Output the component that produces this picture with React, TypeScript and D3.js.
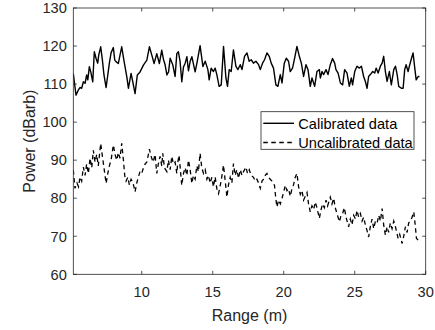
import React from "react";
import * as d3 from "d3";

const xTicks = [10, 15, 20, 25, 30];
const yTicks = [60, 70, 80, 90, 100, 110, 120, 130];
const seriesNames = ["Calibrated data", "Uncalibrated data"];

const calX = [5.18,5.37,5.53,5.65,5.77,5.89,6.01,6.12,6.2,6.31,6.41,6.55,6.66,6.78,6.9,6.97,7.11,7.23,7.34,7.49,7.61,7.72,7.84,8.0,8.1,8.19,8.35,8.47,8.59,8.76,8.95,9.06,9.25,9.37,9.53,9.69,9.88,10.12,10.36,10.54,10.71,10.87,11.06,11.24,11.41,11.53,11.65,11.77,11.89,12.0,12.19,12.35,12.47,12.58,12.7,12.82,12.94,13.06,13.18,13.29,13.41,13.53,13.76,13.88,14.11,14.31,14.47,14.66,14.75,14.89,15.05,15.17,15.29,15.45,15.6,15.76,15.93,16.04,16.16,16.3,16.46,16.63,16.77,16.94,17.06,17.24,17.41,17.57,17.71,17.87,18.04,18.23,18.35,18.51,18.65,18.82,18.98,19.12,19.28,19.45,19.59,19.76,19.88,20.04,20.18,20.34,20.46,20.62,20.77,20.93,21.1,21.24,21.4,21.57,21.71,21.87,21.99,22.18,22.34,22.51,22.58,22.7,22.81,22.98,23.12,23.28,23.44,23.59,23.68,23.83,23.99,24.15,24.29,24.46,24.62,24.76,24.85,25.0,25.16,25.33,25.47,25.63,25.75,25.87,25.98,26.1,26.27,26.41,26.51,26.65,26.81,26.93,27.04,27.16,27.28,27.44,27.58,27.75,27.87,27.99,28.1,28.29,28.41,28.52,28.62,28.76,28.85,29.0,29.11,29.23,29.33,29.47,29.56];
const calY = [112.8,107.1,108.4,109.1,108.9,110.6,110.2,112.4,111.1,114.6,113.2,110.6,118.5,116.8,115.5,117.6,119.8,116.3,112.4,109.1,112.4,115.5,118.2,119.6,116.3,115.9,115.4,117.6,119.8,115.9,111.9,108.9,112.8,110.6,107.5,112.4,113.2,115.0,116.3,119.8,117.6,115.4,118.0,115.4,118.9,116.5,115.0,112.4,113.2,116.8,115.0,112.0,118.0,118.5,116.0,110.6,114.5,115.5,117.2,113.5,116.0,117.2,113.2,115.4,120.1,114.6,116.0,113.8,111.1,114.2,113.3,114.2,112.5,109.4,109.8,119.9,111.6,109.4,113.8,113.3,119.0,114.7,113.8,115.1,113.8,117.3,118.2,116.0,116.4,115.5,116.0,115.1,113.8,115.5,116.4,118.2,117.3,115.5,114.2,109.8,109.4,112.5,110.3,115.5,116.8,116.0,113.3,114.2,116.8,119.9,117.3,115.5,112.0,115.1,113.8,109.4,111.6,109.4,113.3,113.8,111.6,113.3,112.5,113.8,112.5,115.1,116.7,115.5,113.8,112.9,110.3,109.8,113.8,112.9,109.4,111.6,109.8,113.3,114.7,114.2,114.7,112.0,110.7,108.9,112.0,112.5,113.3,112.9,114.2,112.9,114.7,115.5,117.3,113.3,110.7,113.3,109.8,113.8,114.7,112.5,109.4,108.9,108.9,113.8,115.1,113.3,114.7,116.8,118.2,114.2,111.1,112.0,112.0];

const uncX = [5.18,5.3,5.44,5.55,5.65,5.77,5.89,6.01,6.12,6.24,6.36,6.48,6.59,6.71,6.83,6.94,7.11,7.23,7.34,7.49,7.61,7.72,7.84,8.0,8.12,8.24,8.35,8.47,8.59,8.71,8.8,8.9,9.02,9.13,9.25,9.39,9.53,9.65,9.76,9.88,10.0,10.12,10.24,10.36,10.54,10.66,10.8,10.94,11.06,11.17,11.29,11.41,11.48,11.6,11.77,11.88,12.0,12.12,12.23,12.35,12.47,12.54,12.63,12.82,12.94,13.06,13.18,13.29,13.41,13.53,13.64,13.76,13.88,13.99,14.11,14.23,14.35,14.47,14.59,14.7,14.82,14.94,15.05,15.17,15.29,15.41,15.6,15.76,15.88,16.0,16.11,16.23,16.35,16.46,16.58,16.7,16.82,16.94,17.06,17.17,17.34,17.45,17.57,17.71,17.87,17.99,18.11,18.23,18.35,18.47,18.58,18.7,18.82,18.93,19.05,19.17,19.35,19.44,19.52,19.64,19.76,19.88,19.99,20.11,20.23,20.34,20.46,20.58,20.69,20.81,20.93,21.05,21.17,21.29,21.4,21.52,21.64,21.75,21.87,21.99,22.11,22.22,22.34,22.51,22.63,22.74,22.86,22.98,23.09,23.28,23.4,23.52,23.63,23.75,23.92,24.04,24.15,24.27,24.39,24.57,24.69,24.81,24.93,25.05,25.16,25.28,25.4,25.52,25.63,25.75,25.87,25.98,26.1,26.22,26.34,26.46,26.58,26.69,26.81,26.93,27.04,27.16,27.28,27.39,27.51,27.63,27.75,27.87,27.99,28.06,28.17,28.34,28.45,28.57,28.69,28.8,28.92,29.04,29.16,29.26,29.35,29.51];
const uncY = [87.4,82.6,84.0,83.0,85.6,84.5,88.2,86.0,89.0,86.5,90.5,88.0,92.6,89.5,91.5,88.5,94.4,91.0,88.0,83.9,86.5,88.5,90.0,94.0,91.5,90.0,92.0,90.5,94.4,90.0,86.0,84.5,85.5,83.5,85.0,84.0,81.7,84.0,85.5,87.0,86.5,88.0,89.0,89.5,92.9,91.0,89.5,91.5,86.5,89.0,91.0,88.5,91.8,88.0,87.0,90.0,87.5,91.0,89.0,89.5,86.5,89.5,91.3,83.4,86.5,88.0,86.0,90.0,87.5,83.9,86.0,85.0,88.5,87.0,91.8,88.0,86.5,87.5,85.0,86.0,84.0,85.5,83.0,85.6,82.5,81.2,84.7,88.7,84.5,80.3,83.5,85.5,84.0,89.1,86.0,87.5,85.2,87.5,86.0,87.0,88.2,86.5,87.5,86.0,85.5,84.5,85.0,84.0,82.6,84.5,85.0,86.0,86.5,85.5,85.0,84.5,83.4,80.0,77.7,79.5,78.5,80.0,81.5,83.4,82.0,82.5,80.5,82.5,83.5,85.5,86.5,83.0,81.0,82.0,79.5,80.5,81.5,78.5,76.4,78.0,77.0,79.0,77.5,74.7,77.0,78.5,77.5,79.5,78.0,80.3,78.5,80.0,77.5,76.0,73.8,75.5,76.0,77.5,75.0,72.5,74.5,73.0,75.5,74.5,76.8,75.0,76.0,74.0,75.0,73.0,71.5,69.8,72.5,74.5,72.0,74.0,73.5,75.5,74.0,77.3,73.0,70.3,72.5,71.0,73.5,72.0,74.0,72.5,70.5,69.4,70.5,68.1,70.0,72.5,71.0,73.5,74.0,75.0,76.4,73.0,69.4,68.9];

const W = 435;
const H = 330;
const left = 73.3;
const right = 425.7;
const top = 8;
const bottom = 274.3;
const axisColor = "#262626";
const font = "'Liberation Sans', Arial, sans-serif";

export default function App() {
  const x = d3.scaleLinear().domain([5.18, 30]).range([left, right]);
  const y = d3.scaleLinear().domain([60, 130]).range([bottom, top]);
  const line = d3
    .line<[number, number]>()
    .x((d) => x(d[0]))
    .y((d) => y(d[1]));
  const calData = calX.map((v, i) => [v, calY[i]] as [number, number]);
  const uncData = uncX.map((v, i) => [v, uncY[i]] as [number, number]);
  const tl = 3.5;

  const lg = { x0: 261, y0: 111.7, x1: 414, y1: 149.3 };

  return (
    <svg
      width={W}
      height={H}
      style={{ position: "absolute", left: 0, top: 0, background: "#fff" }}
      fontFamily={font}
    >
      <rect x={0} y={0} width={W} height={H} fill="#fff" />
      <defs>
        <clipPath id="plotclip">
          <rect x={left} y={top} width={right - left} height={bottom - top} />
        </clipPath>
      </defs>
      <g clipPath="url(#plotclip)">
        <path d={line(uncData) || ""} fill="none" stroke="#000" strokeWidth={1.3} strokeDasharray="4.5,3.5" />
        <path d={line(calData) || ""} fill="none" stroke="#000" strokeWidth={1.4} strokeLinejoin="round" />
      </g>
      {/* axes box */}
      <rect x={left} y={top} width={right - left} height={bottom - top} fill="none" stroke={axisColor} strokeWidth={0.8} />
      {xTicks.map((t) => (
        <g key={"x" + t}>
          <line x1={x(t)} x2={x(t)} y1={bottom} y2={bottom - tl} stroke={axisColor} strokeWidth={0.8} />
          <line x1={x(t)} x2={x(t)} y1={top} y2={top + tl} stroke={axisColor} strokeWidth={0.8} />
          <text x={x(t)} y={bottom + 22.5} textAnchor="middle" fontSize={14.6} fill={axisColor}>
            {t}
          </text>
        </g>
      ))}
      {yTicks.map((t) => (
        <g key={"y" + t}>
          <line x1={left} x2={left + tl} y1={y(t)} y2={y(t)} stroke={axisColor} strokeWidth={0.8} />
          <line x1={right} x2={right - tl} y1={y(t)} y2={y(t)} stroke={axisColor} strokeWidth={0.8} />
          <text x={66.8} y={y(t)} dy="0.36em" textAnchor="end" fontSize={14.6} fill={axisColor}>
            {t}
          </text>
        </g>
      ))}
      <text x={(left + right) / 2} y={321} textAnchor="middle" fontSize={16} fill={axisColor}>
        Range (m)
      </text>
      <text
        transform={`translate(35,${(top + bottom) / 2}) rotate(-90)`}
        textAnchor="middle"
        fontSize={16}
        fill={axisColor}
      >
        Power (dBarb)
      </text>
      {/* legend */}
      <rect x={lg.x0} y={lg.y0} width={lg.x1 - lg.x0} height={lg.y1 - lg.y0} fill="#fff" stroke={axisColor} strokeWidth={0.8} />
      <line x1={263.3} x2={294} y1={123.3} y2={123.3} stroke="#000" strokeWidth={1.4} />
      <line x1={263.3} x2={294} y1={142.5} y2={142.5} stroke="#000" strokeWidth={1.3} strokeDasharray="4.5,3.5" />
      <text x={298.3} y={123.3} dy="0.36em" fontSize={14.6} fill="#000">
        {seriesNames[0]}
      </text>
      <text x={298.3} y={142.5} dy="0.36em" fontSize={14.6} fill="#000">
        {seriesNames[1]}
      </text>
    </svg>
  );
}
